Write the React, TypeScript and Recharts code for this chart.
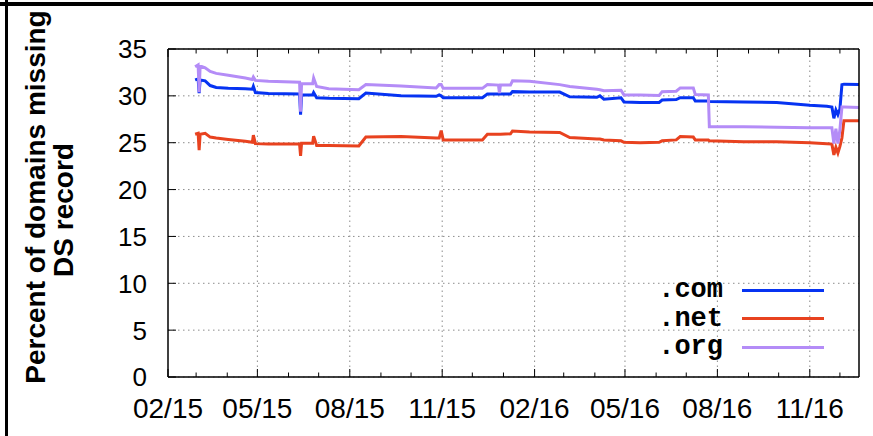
import { CartesianGrid, Legend, Line, LineChart, ReferenceLine, XAxis, YAxis } from "recharts";

// sample dates (day resolution) and the three series
const DATES = [
  "2015-02-28", "2015-03-03", "2015-03-04", "2015-03-05", "2015-03-10", "2015-03-15", "2015-03-21",
  "2015-04-02", "2015-04-19", "2015-04-26", "2015-04-27", "2015-04-29", "2015-05-12", "2015-06-12",
  "2015-06-13", "2015-06-14", "2015-06-25", "2015-06-26", "2015-06-29", "2015-07-11", "2015-08-10",
  "2015-08-17", "2015-09-21", "2015-10-26", "2015-10-29", "2015-10-31", "2015-11-02", "2015-12-11",
  "2015-12-16", "2015-12-27", "2015-12-28", "2015-12-29", "2016-01-08", "2016-01-10", "2016-01-27",
  "2016-02-26", "2016-03-07", "2016-04-03", "2016-04-06", "2016-04-10", "2016-04-27", "2016-04-30",
  "2016-05-16", "2016-06-04", "2016-06-07", "2016-06-21", "2016-06-25", "2016-07-08", "2016-07-10",
  "2016-07-23", "2016-07-24", "2016-08-27", "2016-09-29", "2016-11-01", "2016-11-18", "2016-11-23",
  "2016-11-25", "2016-11-27", "2016-11-29", "2016-12-01", "2016-12-03", "2016-12-05", "2016-12-20",
];

const COM = [
  31.7, 31.8, 30.3, 31.7, 31.6, 31.1, 30.9,
  30.8, 30.75, 30.7, 31.0, 30.35, 30.25, 30.2,
  28.0, 30.1, 30.1, 30.35, 29.8, 29.75, 29.7,
  30.3, 30.0, 29.95, 30.1, 30.0, 29.8, 29.8,
  30.2, 30.2, 30.2, 30.2, 30.2, 30.45, 30.4,
  30.4, 29.9, 29.85, 30.0, 29.65, 29.8, 29.35,
  29.3, 29.3, 29.55, 29.6, 29.8, 29.8, 29.45,
  29.45, 29.4, 29.35, 29.3, 29.0, 28.9, 28.8,
  27.6, 28.5, 28.0, 28.6, 31.2, 31.25, 31.2,
];

const NET = [
  25.9, 26.0, 24.2, 25.9, 26.0, 25.6, 25.5,
  25.35, 25.15, 25.05, 25.8, 24.9, 24.85, 24.85,
  23.6, 24.95, 24.95, 25.7, 24.7, 24.7, 24.65,
  25.6, 25.65, 25.5, 25.5, 26.3, 25.3, 25.3,
  25.9, 25.9, 25.9, 25.9, 25.95, 26.25, 26.15,
  26.1, 25.55, 25.4, 25.4, 25.3, 25.2, 25.05,
  25.0, 25.05, 25.2, 25.3, 25.65, 25.6, 25.3,
  25.3, 25.2, 25.1, 25.1, 25.0, 24.9, 24.85,
  23.7, 24.5, 23.9, 24.6, 25.5, 27.35, 27.35,
];

const ORG = [
  33.1, 33.3, 30.4, 33.2, 33.0, 32.6, 32.4,
  32.2, 31.9, 31.75, 32.0, 31.65, 31.55, 31.45,
  28.3, 31.3, 31.3, 31.9, 31.0, 30.75, 30.65,
  31.2, 31.05, 30.85, 31.2, 31.2, 30.8, 30.8,
  31.2, 31.15, 30.3, 31.15, 31.15, 31.6, 31.55,
  31.2, 31.0, 30.7, 30.65, 30.55, 30.6, 30.1,
  30.1, 30.05, 30.45, 30.5, 30.85, 30.85, 30.15,
  30.1, 26.7, 26.7, 26.65, 26.6, 26.6, 26.6,
  24.9, 26.5, 24.9, 26.4, 28.8, 28.8, 28.75,
];

const SERIES_KEYS = ["com", "net", "org"];
const SERIES_NAMES = [".com", ".net", ".org"];
const SERIES_COLORS = ["#0633f2", "#e8421f", "#b48cf7"];

const MONTH_TICKS = [
  "2015-02-01", "2015-03-01", "2015-04-01", "2015-05-01", "2015-06-01", "2015-07-01", "2015-08-01",
  "2015-09-01", "2015-10-01", "2015-11-01", "2015-12-01", "2016-01-01", "2016-02-01", "2016-03-01",
  "2016-04-01", "2016-05-01", "2016-06-01", "2016-07-01", "2016-08-01", "2016-09-01", "2016-10-01",
  "2016-11-01", "2016-12-01",
];
const LABEL_MONTHS = [
  "2015-02-01", "2015-05-01", "2015-08-01", "2015-11-01",
  "2016-02-01", "2016-05-01", "2016-08-01", "2016-11-01",
];
const X_LABELS = ["02/15", "05/15", "08/15", "11/15", "02/16", "05/16", "08/16", "11/16"];
const Y_TICKS = [0, 5, 10, 15, 20, 25, 30, 35];

const START = "2015-02-01";
const END = "2016-12-20";

const toDay = (iso: string) => Math.round((Date.parse(iso) - Date.parse(START)) / 86400000);

const data = DATES.map((d, i) => ({ t: toDay(d), com: COM[i], net: NET[i], org: ORG[i] }));
const monthDays = MONTH_TICKS.map(toDay);
const labelDays = LABEL_MONTHS.map(toDay);

const SANS = "'Liberation Sans', Arial, Helvetica, sans-serif";
const MONO = "'Liberation Mono', 'Courier New', monospace";
const GRID = "#8c8c8c";

function labelFor(day: number) {
  const i = labelDays.indexOf(day);
  return i >= 0 ? X_LABELS[i] : null;
}

function BottomTick({ x, y, payload }: any) {
  const label = labelFor(payload.value);
  return (
    <g>
      <line x1={x} x2={x} y1={y} y2={y - (label ? 8 : 4.5)} stroke="#000" />
      {label && (
        <text x={x} y={y + 41} textAnchor="middle" fontFamily={SANS} fontSize={28} fill="#000">
          {label}
        </text>
      )}
    </g>
  );
}

function TopTick({ x, y, payload }: any) {
  const major = labelFor(payload.value) !== null;
  return <line x1={x} x2={x} y1={y} y2={y + (major ? 8 : 4.5)} stroke="#000" />;
}

function LeftTick({ x, y, payload }: any) {
  return (
    <g>
      <line x1={x} x2={x + 8} y1={y} y2={y} stroke="#000" />
      <text x={x - 21} y={y} dy="0.36em" textAnchor="end" fontFamily={SANS} fontSize={26} fill="#000">
        {payload.value}
      </text>
    </g>
  );
}

function RightTick({ x, y }: any) {
  return <line x1={x} x2={x - 8} y1={y} y2={y} stroke="#000" />;
}

function renderYLabel(props: any) {
  const { x, y, height } = props.viewBox;
  const cy = y + height / 2;
  const x1 = x + 35;
  const y1 = cy - 16;
  const x2 = x + 63;
  const y2 = cy - 3;
  return (
    <g fontFamily={SANS} fontWeight="bold" fontSize={28} fill="#000">
      <text x={x1} y={y1} transform={`rotate(-90 ${x1} ${y1})`} textAnchor="middle" dominantBaseline="central">
        Percent of domains missing
      </text>
      <text x={x2} y={y2} transform={`rotate(-90 ${x2} ${y2})`} textAnchor="middle" dominantBaseline="central">
        DS record
      </text>
    </g>
  );
}

function renderLegend() {
  return (
    <div style={{ fontFamily: MONO, fontWeight: "bold", fontSize: 27, color: "#000" }}>
      {SERIES_NAMES.map((name, i) => (
        <div key={name} style={{ display: "flex", alignItems: "center", height: 28.5, lineHeight: "28.5px" }}>
          <span style={{ width: 85, textAlign: "right" }}>{name}</span>
          <span style={{ marginLeft: 19, width: 82, height: 3, background: SERIES_COLORS[i] }} />
        </div>
      ))}
    </div>
  );
}

export default function App() {
  const axisLine = { stroke: "#000", strokeWidth: 1.5 };
  return (
    <div style={{ position: "absolute", left: 0, top: 0, width: 873, height: 436, background: "#fff", overflow: "hidden" }}>
      <LineChart width={873} height={436} data={data} margin={{ top: 0, right: 0, bottom: 0, left: 0 }}>
        <CartesianGrid vertical={false} stroke={GRID} strokeDasharray="1.5 3.5" />
        <XAxis
          dataKey="t"
          type="number"
          domain={[0, toDay(END)]}
          ticks={monthDays}
          interval={0}
          height={59}
          tickSize={0}
          tickMargin={0}
          tickLine={false}
          axisLine={axisLine}
          tick={BottomTick}
          allowDataOverflow
        />
        <XAxis
          xAxisId="top"
          orientation="top"
          dataKey="t"
          type="number"
          domain={[0, toDay(END)]}
          ticks={monthDays}
          interval={0}
          height={49}
          tickSize={0}
          tickMargin={0}
          tickLine={false}
          axisLine={axisLine}
          tick={TopTick}
          allowDataOverflow
        />
        <YAxis
          domain={[0, 35]}
          ticks={Y_TICKS}
          interval={0}
          width={168}
          tickSize={0}
          tickMargin={0}
          tickLine={false}
          axisLine={axisLine}
          tick={LeftTick}
          label={{ content: renderYLabel }}
        />
        <YAxis
          yAxisId="right"
          orientation="right"
          domain={[0, 35]}
          ticks={Y_TICKS}
          interval={0}
          width={14}
          tickSize={0}
          tickMargin={0}
          tickLine={false}
          axisLine={axisLine}
          tick={RightTick}
        />
        {labelDays.slice(1).map((d) => (
          <ReferenceLine key={d} x={d} stroke={GRID} strokeDasharray="1.5 3.5" />
        ))}
        {SERIES_KEYS.map((key, i) => (
          <Line
            key={key}
            dataKey={key}
            name={SERIES_NAMES[i]}
            type="linear"
            stroke={SERIES_COLORS[i]}
            strokeWidth={3}
            dot={false}
            activeDot={false}
            isAnimationActive={false}
          />
        ))}
        <Legend
          layout="horizontal"
          verticalAlign="middle"
          align="center"
          content={renderLegend}
          wrapperStyle={{ left: 638, top: 276, width: 200 }}
        />
      </LineChart>
      <div style={{ position: "absolute", left: 0, top: 2, width: 873, height: 4, background: "#000" }} />
      <div style={{ position: "absolute", left: 5, top: 0, width: 3, height: 436, background: "#000" }} />
    </div>
  );
}
